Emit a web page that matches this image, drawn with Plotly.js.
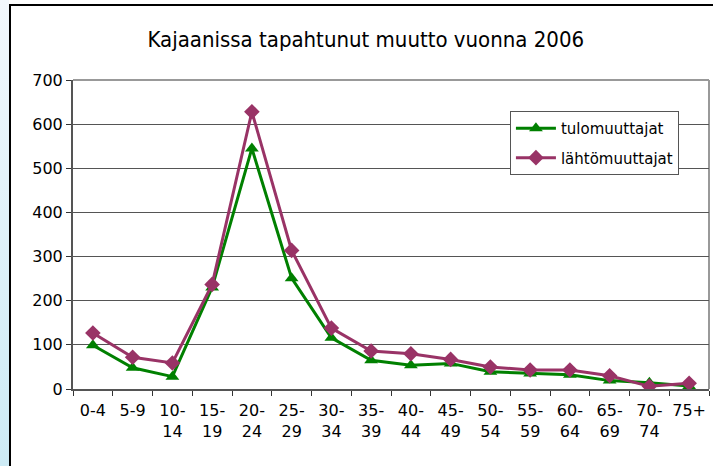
<!DOCTYPE html>
<html>
<head>
<meta charset="utf-8">
<script src="https://cdn.plot.ly/plotly-3.0.1.min.js"></script>
<style>
  html, body { margin: 0; padding: 0; width: 713px; height: 466px; overflow: hidden; background: #fff; }
  #strip { position: absolute; left: 0; top: 0; width: 9px; height: 466px;
           background: linear-gradient(to bottom, #f2f8fd, #cdebf5); }
  #frame { position: absolute; left: 9px; top: 4px; width: 704px; height: 462px;
           border-left: 2px solid #000; border-top: 2px solid #000; box-sizing: border-box; }
  #chart { position: absolute; left: 0; top: 0; width: 713px; height: 466px; }
</style>
</head>
<body>
<div id="strip"></div>
<div id="frame"></div>
<div id="chart"></div>
<script>
const categories = ["0-4","5-9","10-14","15-19","20-24","25-29","30-34","35-39","40-44","45-49","50-54","55-59","60-64","65-69","70-74","75+"];
const tickLabels = ["0-4","5-9","10-<br>14","15-<br>19","20-<br>24","25-<br>29","30-<br>34","35-<br>39","40-<br>44","45-<br>49","50-<br>54","55-<br>59","60-<br>64","65-<br>69","70-<br>74","75+"];
const tulomuuttajat = [99, 48, 28, 230, 545, 251, 116, 65, 54, 58, 39, 35, 32, 19, 14, 7];
const lahtomuuttajat = [127, 72, 59, 237, 628, 314, 138, 86, 80, 67, 50, 43, 43, 30, 6, 13];

const font = "Verdana, 'DejaVu Sans', sans-serif";

const traces = [
  { x: categories, y: tulomuuttajat, name: "tulomuuttajat", type: "scatter", mode: "lines+markers",
    legendgroup: "a",
    line: { color: "#008000", width: 3 },
    marker: { symbol: "triangle-up", size: 12, color: "#008000" } },
  { x: categories, y: lahtomuuttajat, name: "lähtömuuttajat", type: "scatter", mode: "lines+markers",
    legendgroup: "b",
    line: { color: "#993366", width: 3 },
    marker: { symbol: "diamond", size: 12, color: "#993366" } }
];

const layout = {
  width: 713, height: 466,
  margin: { l: 73, r: 4, t: 80, b: 77 },
  paper_bgcolor: "rgba(0,0,0,0)",
  plot_bgcolor: "rgba(0,0,0,0)",
  title: { text: "Kajaanissa tapahtunut muutto vuonna 2006", x: 0.513, xanchor: "center", y: 0.915, yanchor: "middle",
           font: { family: "'DejaVu Sans Condensed', 'DejaVu Sans', sans-serif", size: 22, color: "#000" } },
  showlegend: true,
  legend: { x: 0.687, y: 0.9, xanchor: "left", yanchor: "top",
            bgcolor: "#fff", bordercolor: "#555", borderwidth: 1,
            font: { family: font, size: 15, color: "#000" }, tracegroupgap: 7, itemwidth: 40 },
  xaxis: {
    type: "category", tickmode: "array", tickvals: categories, ticktext: tickLabels,
    range: [-0.5, 15.5], tickangle: 0, ticklabelstandoff: 6,
    tickson: "boundaries", ticks: "outside", ticklen: 5, tickcolor: "#333", tickwidth: 1,
    showline: true, linecolor: "#555", linewidth: 2, showgrid: false,
    tickfont: { family: font, size: 16, color: "#000" }, fixedrange: true
  },
  yaxis: {
    range: [0, 700], tickvals: [0,100,200,300,400,500,600,700],
    ticks: "outside", ticklen: 5, tickcolor: "#333",
    showline: true, linecolor: "#555", linewidth: 2,
    showgrid: true, gridcolor: "#555", gridwidth: 1, zeroline: false,
    tickfont: { family: font, size: 16, color: "#000" }, fixedrange: true
  },
  shapes: [
    { type: "line", xref: "paper", yref: "paper", x0: 0, x1: 1, y0: 1, y1: 1, line: { color: "#999", width: 2 }, layer: "below" },
    { type: "line", xref: "paper", yref: "paper", x0: 1, x1: 1, y0: 0, y1: 1, line: { color: "#999", width: 2 }, layer: "below" }
  ]
};

Plotly.newPlot("chart", traces, layout, { displayModeBar: false, staticPlot: true });
</script>
</body>
</html>
